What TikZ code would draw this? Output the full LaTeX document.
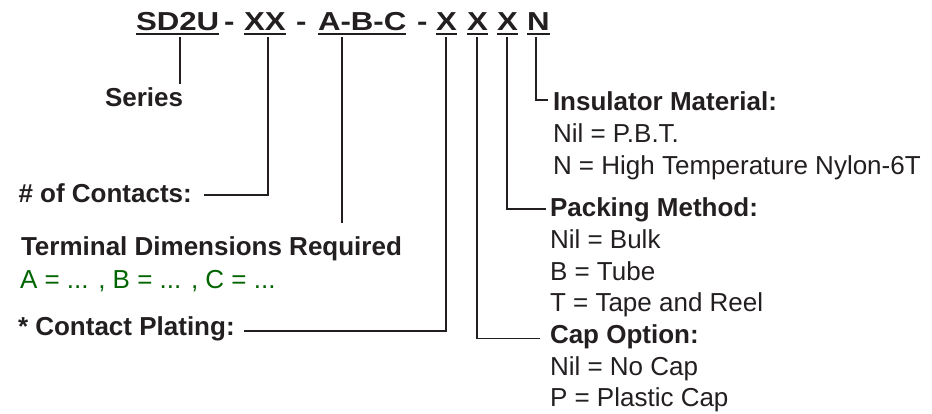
\documentclass[tikz,border=0pt]{standalone}
\usepackage{graphicx}
\usepackage{fontspec}
\setmainfont{Liberation Sans}
\usetikzlibrary{calc}
\definecolor{ink}{HTML}{231F20}
\definecolor{dimgreen}{RGB}{0,100,0}
\begin{document}
\begin{tikzpicture}[x=1pt,y=-1pt,
  conn/.style={draw=ink, line width=1.8pt},
  ul/.style={draw=ink, line width=2.2pt},
  ttl/.style={anchor=base west, inner sep=0pt, outer sep=0pt, text=ink, font=\fontsize{26}{30}\selectfont\bfseries},
  lbl/.style={anchor=base west, inner sep=0pt, outer sep=0pt, text=ink, font=\fontsize{26}{31.8}\selectfont\bfseries},
  itm/.style={anchor=base west, inner sep=0pt, outer sep=0pt, text=ink, font=\fontsize{26}{31.8}\selectfont},
  grn/.style={itm, text=dimgreen}]
\useasboundingbox (0,0) rectangle (932,414);

% title
\node[ttl] (t1) at (136,30.5) {\scalebox{1.2}[1]{SD2U}};
\node[ttl] (d1) at (224,30.5) {\scalebox{1.2}[1]{-}};
\node[ttl] (t2) at (244,30.5) {\scalebox{1.2}[1]{XX}};
\node[ttl] (d2) at (296,30.5) {\scalebox{1.2}[1]{-}};
\node[ttl] (t3) at (318,30.5) {\scalebox{1.2}[1]{A-B-C}};
\node[ttl] (d3) at (417,30.5) {\scalebox{1.2}[1]{-}};
\node[ttl] (t4) at (436,30.5) {\scalebox{1.2}[1]{X}};
\node[ttl] (t5) at (467,30.5) {\scalebox{1.2}[1]{X}};
\node[ttl] (t6) at (497,30.5) {\scalebox{1.2}[1]{X}};
\node[ttl] (t7) at (527,30.5) {\scalebox{1.2}[1]{N}};
\foreach \n in {t1,t2,t3,t4,t5,t6,t7}
  \draw[ul] ($(\n.base west)+(0,3.2)$) -- ($(\n.base east)+(0,3.2)$);

% left labels
\node[lbl] (series) at (105,106.7) {Series};
\node[lbl] (contacts) at (18.5,203) {\# of Contacts:};
\node[lbl] (term) at (21,256) {Terminal Dimensions Required};
\node[grn] (dims) at (20,288) {A = ... , B = ... , C = ...};
\node[lbl] (plating) at (18,335) {* Contact Plating:};

% right labels
\node[lbl] (insul) at (553,110.7) {Insulator Material:};
\node[itm] (i1) at (553,142.5) {Nil = P.B.T.};
\node[itm] (i2) at (553,174.3) {N = High Temperature Nylon-6T};
\node[lbl] (pack) at (550,216.7) {Packing Method:};
\node[itm] (p1) at (550,248.4) {Nil = Bulk};
\node[itm] (p2) at (550,280.1) {B = Tube};
\node[itm] (p3) at (550,311.8) {T = Tape and Reel};
\node[lbl] (cap) at (550,343.5) {Cap Option:};
\node[itm] (c1) at (550,375.2) {Nil = No Cap};
\node[itm] (c2) at (550,406.9) {P = Plastic Cap};

% connector starts under the title
\coordinate (v1) at (180,37);
\coordinate (v2) at (268,37);
\coordinate (v3) at (342,37);
\coordinate (v4) at (446,37);
\coordinate (v5) at (477,37);
\coordinate (v6) at (507,37);
\coordinate (v7) at (536,37);

% connector ends
\coordinate (e1) at ($(v1 |- series.north)+(0,-4)$);
\coordinate (e2) at ($(contacts.base east)+(12,-8)$);
\coordinate (e3) at ($(v3 |- term.north)+(0,-14)$);
\coordinate (e4) at ($(plating.base east)+(9,-4)$);
\coordinate (e5) at ($(cap.base west)+(-10,-5)$);
\coordinate (e6) at ($(pack.base west)+(-4,-8)$);
\coordinate (e7) at ($(insul.base west)+(-5,-11)$);

\draw[conn] (v1) -- (e1);
\draw[conn] (v2) |- (e2);
\draw[conn] (v3) -- (e3);
\draw[conn] (v4) |- (e4);
\draw[conn] (v5) |- (e5);
\draw[conn] (v6) |- (e6);
\draw[conn] (v7) |- (e7);
\end{tikzpicture}
\end{document}
